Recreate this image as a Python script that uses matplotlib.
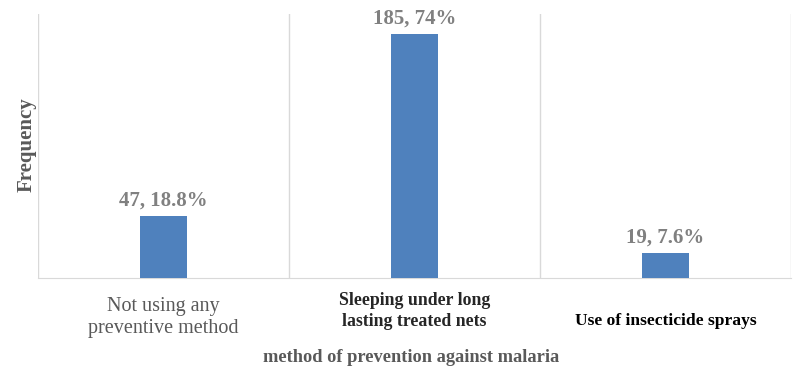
import matplotlib
matplotlib.use("Agg")
import matplotlib.pyplot as plt

categories = ["Not using any\npreventive method",
              "Sleeping under long\nlasting treated nets",
              "Use of insecticide sprays"]
counts = [47, 185, 19]
percents = ["18.8%", "74%", "7.6%"]

fig = plt.figure(figsize=(8, 3.8), dpi=100)
ax = fig.add_axes([38/800, 1 - 278/380, (791-38)/800, (278-14)/380])
x = list(range(len(categories)))
ax.bar(x, counts, width=0.185, color="#4f81bd", zorder=3)
ax.set_xlim(-0.5, 2.5)
ax.set_ylim(0, 200)
ax.set_yticks([])
ax.set_xticks([])
for b in [-0.5, 0.5, 1.5, 2.5]:
    ax.axvline(b, color="#d9d9d9", lw=1, zorder=1)
for s in ["top", "right", "left"]:
    ax.spines[s].set_visible(False)
ax.spines["bottom"].set_color("#d9d9d9")

serif = "Liberation Serif"
for xi, c, p in zip(x, counts, percents):
    ax.text(xi, c + 4, f"{c}, {p}", ha="center", va="bottom", fontsize=15,
            fontweight="bold", color="#808080", family=serif)

tick_styles = [
    dict(fontsize=14.5, fontweight="normal", color="#595959", linespacing=1.25),
    dict(fontsize=12.8, fontweight="bold", color="#262626", linespacing=1.3),
    dict(fontsize=12.6, fontweight="bold", color="#000000", linespacing=1.3),
]
ty = [297/380, 292/380, 313/380]
for xi, lab, st, yy in zip(x, categories, tick_styles, ty):
    ax_y = (1 - yy - ax.get_position().y0) / ax.get_position().height
    ax.text(xi, ax_y, lab, transform=ax.get_xaxis_transform(),
            ha="center", va="top", family=serif, **st)

fig.text(411/800, 1 - 357/380, "method of prevention against malaria", ha="center",
         va="center", fontsize=13.2, fontweight="bold", color="#595959", family=serif)
fig.text(27/800, 1 - 145/380, "Frequency", rotation=90, ha="center", va="center",
         fontsize=15, fontweight="bold", color="#595959", family=serif)

fig.savefig("out.png", dpi=100)
